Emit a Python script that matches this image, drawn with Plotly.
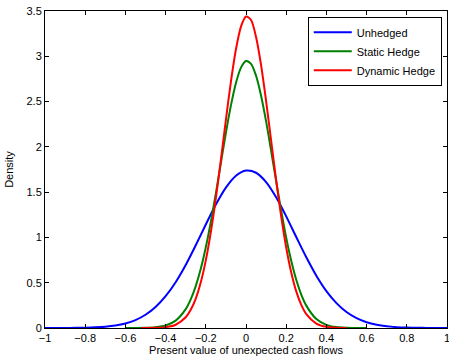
import plotly.graph_objects as go

# ---- data ----
x_unhedged = [-1.0, -0.95, -0.9, -0.85, -0.8, -0.75, -0.7, -0.65, -0.6, -0.55, -0.5,
              -0.45, -0.4, -0.35, -0.3, -0.25, -0.2, -0.15, -0.1, -0.05, 0.0,
              0.05, 0.1, 0.15, 0.2, 0.25, 0.3, 0.35, 0.4, 0.45, 0.5,
              0.55, 0.6, 0.65, 0.7, 0.75, 0.8, 0.85, 0.9, 0.95, 1.0]
y_unhedged = [0.0001, 0.0003, 0.0006, 0.0015, 0.0033, 0.0071, 0.0142, 0.0273, 0.050, 0.0875, 0.146,
              0.232, 0.351, 0.506, 0.696, 0.914, 1.143, 1.363, 1.550, 1.681, 1.738,
              1.714, 1.611, 1.443, 1.233, 1.005, 0.781, 0.578, 0.408, 0.275, 0.176,
              0.108, 0.063, 0.035, 0.0186, 0.0094, 0.0045, 0.0021, 0.0009, 0.0004, 0.0001]

x_static = [-0.6, -0.55, -0.5, -0.45, -0.4, -0.35, -0.3, -0.275, -0.25, -0.225, -0.2, -0.175,
            -0.15, -0.125, -0.1, -0.075, -0.05, -0.025, 0.0, 0.025, 0.05, 0.075, 0.1, 0.125,
            0.15, 0.175, 0.2, 0.225, 0.25, 0.275, 0.3, 0.35, 0.4, 0.45, 0.5, 0.55, 0.6]
y_static = [0.0001, 0.0005, 0.002, 0.008, 0.027, 0.081, 0.208, 0.316, 0.463, 0.653, 0.891, 1.172,
            1.487, 1.822, 2.155, 2.458, 2.706, 2.875, 2.948, 2.917, 2.785, 2.565, 2.281, 1.957,
            1.621, 1.295, 0.998, 0.743, 0.533, 0.369, 0.247, 0.099, 0.035, 0.0104, 0.0027, 0.0006, 0.0001]

x_dynamic = [-0.52, -0.5, -0.45, -0.4, -0.35, -0.3, -0.275, -0.25, -0.225, -0.2, -0.175,
             -0.15, -0.125, -0.1, -0.075, -0.05, -0.025, 0.0, 0.025, 0.05, 0.075, 0.1, 0.125,
             0.15, 0.175, 0.2, 0.225, 0.25, 0.275, 0.3, 0.35, 0.4, 0.45, 0.5]
y_dynamic = [0.0002, 0.0003, 0.0019, 0.0092, 0.036, 0.118, 0.201, 0.325, 0.505, 0.747, 1.059,
             1.435, 1.857, 2.299, 2.720, 3.077, 3.328, 3.440, 3.401, 3.213, 2.902, 2.506, 2.069,
             1.633, 1.232, 0.889, 0.613, 0.404, 0.255, 0.153, 0.049, 0.0129, 0.0029, 0.0005]

series_names = ["Unhedged", "Static Hedge", "Dynamic Hedge"]
series_colors = ["#0000FF", "#008000", "#FF0000"]

x_tickvals = [-1, -0.8, -0.6, -0.4, -0.2, 0, 0.2, 0.4, 0.6, 0.8, 1]
x_ticktext = ["\u22121", "\u22120.8", "\u22120.6", "\u22120.4", "\u22120.2", "0",
              "0.2", "0.4", "0.6", "0.8", "1"]
y_tickvals = [0, 0.5, 1, 1.5, 2, 2.5, 3, 3.5]
y_ticktext = ["0", "0.5", "1", "1.5", "2", "2.5", "3", "3.5"]

FONT = "Liberation Sans, Arial, Helvetica, sans-serif"

fig = go.Figure()
for xs, ys, name, color in zip([x_unhedged, x_static, x_dynamic],
                               [y_unhedged, y_static, y_dynamic],
                               series_names, series_colors):
    fig.add_trace(go.Scatter(x=xs, y=ys, mode="lines", name=name,
                             line=dict(color=color, width=2, shape="spline", smoothing=0.8)))

axis_common = dict(showline=True, linecolor="black", linewidth=1, mirror="allticks",
                   ticks="inside", ticklen=4, tickwidth=1, tickcolor="black",
                   showgrid=False, zeroline=False, automargin=False,
                   ticklabeloverflow="allow",
                   tickfont=dict(family=FONT, size=11, color="black"))

fig.update_xaxes(range=[-1, 1], tickvals=x_tickvals, ticktext=x_ticktext,
                 title=dict(text="Present value of unexpected cash flows",
                            font=dict(family=FONT, size=11, color="black"), standoff=2),
                 **axis_common)
fig.update_yaxes(range=[0, 3.5], tickvals=y_tickvals, ticktext=y_ticktext,
                 title=dict(text="Density", font=dict(family=FONT, size=11, color="black"),
                            standoff=10),
                 **axis_common)

fig.update_layout(
    width=449, height=359,
    margin=dict(l=45, r=2, t=11, b=31, pad=0, autoexpand=False),
    paper_bgcolor="white", plot_bgcolor="white",
    font=dict(family=FONT, size=11, color="black"),
    showlegend=True,
    legend=dict(x=0.987, y=0.982, xanchor="right", yanchor="top",
                bgcolor="white", bordercolor="black", borderwidth=1,
                font=dict(family=FONT, size=11, color="black"),
                tracegroupgap=0, itemwidth=38),
)

fig.write_html("out.html", config={"displayModeBar": False},
               post_script="document.body.style.margin='0';document.body.style.padding='0';")
